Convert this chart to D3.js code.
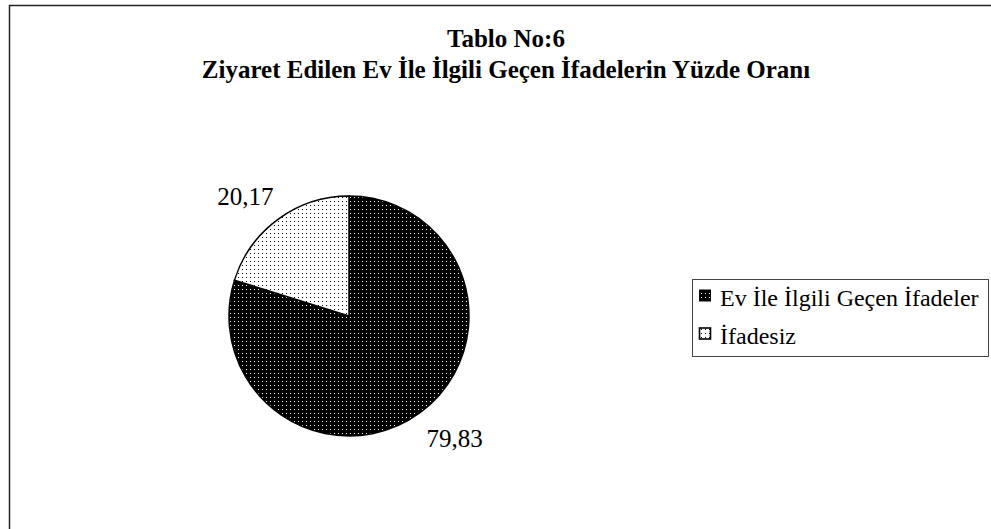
<!DOCTYPE html>
<html><head><meta charset="utf-8">
<script src="https://cdn.jsdelivr.net/npm/d3@7"></script>
<style>body{margin:0;background:#fff}svg{display:block}</style>
</head><body>
<script>
const categories = ["Ev İle İlgili Geçen İfadeler", "İfadesiz"];
const values = [79.83, 20.17];
const labels = ["79,83", "20,17"];
const titleLines = ["Tablo No:6", "Ziyaret Edilen Ev İle İlgili Geçen İfadelerin Yüzde Oranı"];

const W = 991, H = 529;
const FONT = "'Liberation Serif', 'Times New Roman', serif";
const svg = d3.select("body").append("svg").attr("width", W).attr("height", H);
const defs = svg.append("defs");
const p1 = defs.append("pattern").attr("id","pDark").attr("patternUnits","userSpaceOnUse").attr("width",4).attr("height",4);
p1.append("rect").attr("width",4).attr("height",4).attr("fill","#000");
p1.append("rect").attr("x",1).attr("y",1).attr("width",1).attr("height",1).attr("fill","#fff");
const p2 = defs.append("pattern").attr("id","pLight").attr("patternUnits","userSpaceOnUse").attr("width",4).attr("height",4);
p2.append("rect").attr("width",4).attr("height",4).attr("fill","#fff");
p2.append("rect").attr("x",1).attr("y",1).attr("width",1).attr("height",1).attr("fill","#000");
const fills = ["url(#pDark)", "url(#pLight)"];

// outer frame
svg.append("rect").attr("x",9.5).attr("y",5.5).attr("width",W).attr("height",H)
  .attr("fill","none").attr("stroke","#222").attr("stroke-width",1.5);

svg.selectAll("text.title").data(titleLines).enter().append("text")
  .attr("x",506).attr("y",(d,i)=>47+i*31).attr("text-anchor","middle")
  .attr("font-family",FONT).attr("font-weight","bold").attr("font-size",25).text(d=>d);

const cx = 349, cy = 316, R = 120;
const pie = d3.pie().sort(null).value(d=>d)(values);
const arc = d3.arc().innerRadius(0).outerRadius(R);
const g = svg.append("g").attr("transform",`translate(${cx},${cy})`);
g.selectAll("path").data(pie).enter().append("path")
  .attr("d",arc).attr("fill",(d,i)=>fills[i]).attr("stroke","#000").attr("stroke-width",1.5);

const labArc = d3.arc().innerRadius(R+40).outerRadius(R+40);
const offs = [[11,-7],[-9,9]];
g.selectAll("text.lab").data(pie).enter().append("text")
  .attr("transform",(d,i)=>{const c=labArc.centroid(d);return `translate(${c[0]+offs[i][0]},${c[1]+offs[i][1]})`;})
  .attr("text-anchor","middle").attr("dy","0.35em")
  .attr("font-family",FONT).attr("font-size",25).text((d,i)=>labels[i]);

// legend
const lg = svg.append("g");
lg.append("rect").attr("x",692.5).attr("y",279.5).attr("width",296).attr("height",77)
  .attr("fill","#fff").attr("stroke","#444").attr("stroke-width",1);
categories.forEach((c,i)=>{
  const y = 296 + i*38;
  lg.append("rect").attr("x",699.5).attr("y",y-6).attr("width",11).attr("height",11)
    .attr("fill",fills[i]).attr("stroke","#000").attr("stroke-width",i==0?1:1.6);
  lg.append("text").attr("x",720).attr("y",y+10)
    .attr("font-family",FONT).attr("font-size",24).text(c);
});
</script>
</body></html>
